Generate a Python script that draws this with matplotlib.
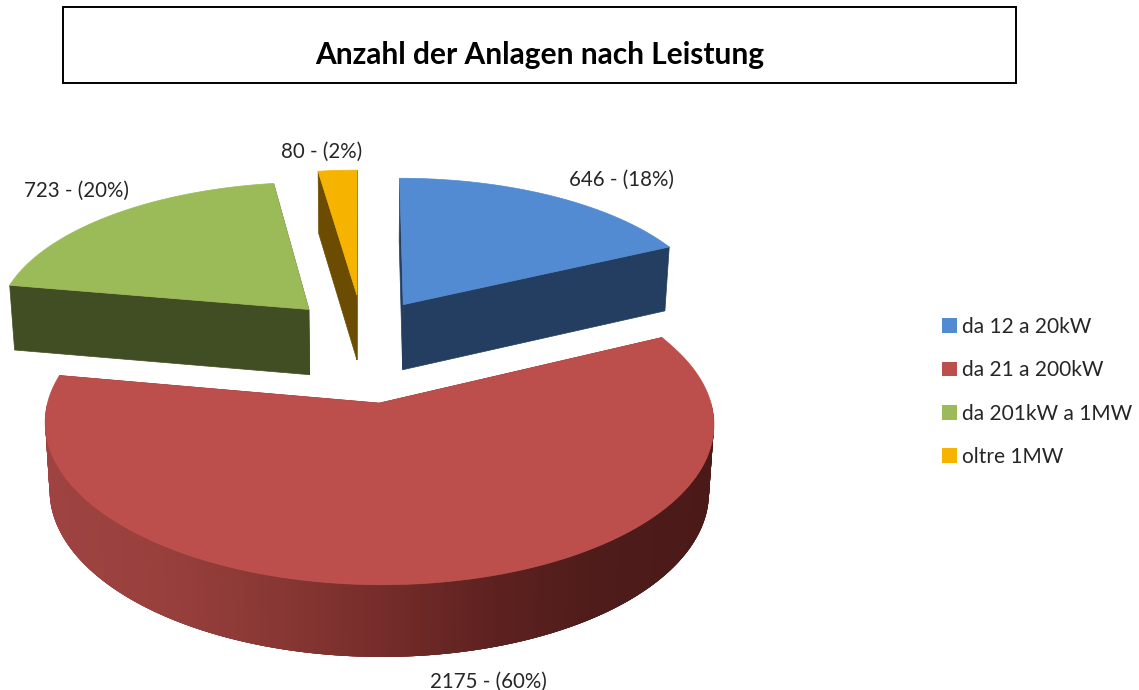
import numpy as np
import matplotlib
matplotlib.use('Agg')
import matplotlib.pyplot as plt
from matplotlib.collections import PolyCollection
from matplotlib.colors import LinearSegmentedColormap
from matplotlib.patches import Patch, Polygon, Rectangle

plt.rcParams['font.family'] = ['Lato', 'DejaVu Sans']

title = "Anzahl der Anlagen nach Leistung"
categories = ["da 12 a 20kW", "da 21 a 200kW", "da 201kW a 1MW", "oltre 1MW"]
values = [646, 2175, 723, 80]

top_colors = ["#538BD3", "#BC4F4C", "#9BBB59", "#F6B400"]
wall_colors = ["#233E60", "#7A2E2B", "#414D22", "#6B4C00"]

# layout of the fake 3d pie, in pixels of the picture
cx, cy = 360, 347
rx, ry = 317, 145
persp_back = 0.09
persp_front = 0.12
depth = 66
shrink = 0.986
# how far each slice is pulled out of the pie (disc units)
pull = [(0.14, 0.30), (0.058, -0.37), (-0.165, 0.265), (-0.01, 0.37)]
label_xy = [(621, 180), (488, 682), (76, 191), (322, 152)]

red_wall = LinearSegmentedColormap.from_list(
    "red_wall", ["#9E4341", "#99403D", "#8A3835", "#772D2B", "#5E2220", "#4E1C1A", "#4B1A18"])


def project(x, y, drop=False):
    s = 1 / (1 + np.where(np.asarray(y) > 0, persp_back, persp_front) * y)
    px = rx * x * s
    py = cy - ry * y * s
    if drop:
        px = px * shrink
        py = py + depth * np.sqrt(s)
    return cx + px, py


fig = plt.figure(figsize=(11.39, 6.90), dpi=100)
ax = fig.add_axes([0, 0, 1, 1])
ax.set_xlim(0, 1139)
ax.set_ylim(690, 0)
ax.axis("off")

ax.add_patch(Rectangle((63, 7), 953, 76, fc="white", ec="black", lw=1.4))
ax.text(539.5, 55, title, ha="center", va="center", fontsize=21.5, fontweight="bold", color="black")

fractions = np.array(values) / sum(values)
edges = np.concatenate([[0], np.cumsum(fractions)]) * 2 * np.pi

# slices behind first, the big one comes on top
for i in [0, 2, 3, 1]:
    x0, y0 = pull[i]
    t = np.linspace(edges[i], edges[i + 1], 400)
    arc_x = x0 + np.sin(t)
    arc_y = y0 + np.cos(t)

    # straight cut walls
    for k in [0, -1]:
        top_a = project(x0, y0)
        top_b = project(arc_x[k], arc_y[k])
        low_b = project(arc_x[k], arc_y[k], True)
        low_a = project(x0, y0, True)
        ax.add_patch(Polygon([top_a, top_b, low_b, low_a], fc=wall_colors[i], ec=wall_colors[i], lw=0.5))

    # rim, only where it looks at us. quads overlap so no seams show
    front = np.cos(t) < 0
    if front.any():
        tx, ty = project(arc_x[front], arc_y[front])
        lx, ly = project(arc_x[front], arc_y[front], True)
        quads = []
        for j in range(len(tx) - 1):
            m = min(j + 4, len(tx) - 1)
            quads.append([(tx[j], ty[j]), (tx[m], ty[m]), (lx[m], ly[m]), (lx[j], ly[j])])
        shade = (tx[:-1] - tx.min()) / (tx.max() - tx.min())
        rim = PolyCollection(quads, facecolors=red_wall(shade), edgecolors="none", linewidths=0)
        ax.add_collection(rim)

    # top face
    px, py = project(np.concatenate([[x0], arc_x]), np.concatenate([[y0], arc_y]))
    ax.add_patch(Polygon(np.column_stack((px, py)), fc=top_colors[i], ec=top_colors[i], lw=0.5))

for i in range(len(values)):
    pct = round(fractions[i] * 100)
    ax.text(label_xy[i][0], label_xy[i][1], f"{values[i]} - ({pct}%)", ha="center", va="center",
            fontsize=14.8, color="#262626")

handles = [Patch(fc=c, ec="none") for c in top_colors]
ax.legend(handles, categories, loc="upper left", bbox_to_anchor=(942, 317), bbox_transform=ax.transData,
          frameon=False, fontsize=15, handlelength=0.7, handleheight=0.7, handletextpad=0.25,
          labelspacing=1.12, borderpad=0, borderaxespad=0, labelcolor="#262626")

fig.savefig("out.png", dpi=100)
